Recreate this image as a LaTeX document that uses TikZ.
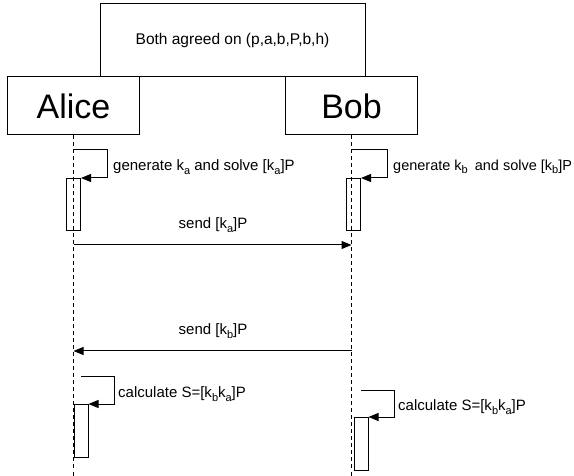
\documentclass[tikz,border=0pt]{standalone}
\usepackage{fontspec}
\setmainfont{Liberation Sans}
\usetikzlibrary{arrows.meta}
\newcommand{\sbx}[1]{\raisebox{-0.45ex}{\fontsize{11}{11}\selectfont #1}}
\begin{document}
\begin{tikzpicture}[x=1pt,y=-1pt,
  box/.style={draw, line width=1pt, inner sep=0pt, font=\fontsize{15.5}{18}\selectfont},
  actor/.style={draw, line width=1pt, inner sep=0pt, minimum width=132pt, minimum height=58pt, font=\fontsize{34}{40}\selectfont},
  life/.style={line width=1pt, dash pattern=on 4pt off 3pt},
  msg/.style={line width=1pt, -{Triangle[length=10pt,width=8pt]}},
  act/.style={draw, line width=1pt, inner sep=0pt, minimum width=14pt, minimum height=52pt},
  lbl/.style={font=\fontsize{15}{18}\selectfont, inner sep=0pt, anchor=west},
  clbl/.style={font=\fontsize{15}{18}\selectfont, inner sep=0pt}]
\useasboundingbox (0,0) rectangle (574,476);
% header boxes
\node[box, minimum width=265pt, minimum height=73pt] (top) at (232.5,40.5) {Both agreed on (p,a,b,P,b,h)};
\node[actor] (alice) at (73.5,106) {Alice};
\node[actor] (bob) at (351.5,106) {Bob};
% lifelines
\coordinate (aend) at (73.5,476);
\coordinate (bend) at (351.5,476);
\draw[life] (alice.south) -- (aend);
\draw[life] (bob.south) -- (bend);
% activations
\node[act, anchor=north] (aact1) at (73.5,178) {};
\node[act, anchor=north] (bact1) at (353.5,178) {};
\node[act, anchor=north west, minimum height=53pt] (aact2) at (73.5,404) {};
\node[act, anchor=north west, minimum height=53pt] (bact2) at (353.5,417) {};
% self loops
\coordinate (al1) at (73.5,150);
\coordinate (bl1) at (351.5,150);
\coordinate (al2) at (81,377);
\coordinate (bl2) at (361,391);
\draw[msg] (al1) -| (107,178) -- (aact1.north east);
\draw[msg] (bl1) -| (387,178) -- (bact1.north east);
\draw[msg] (al2) -| (114,404) -- (aact2.north east);
\draw[msg] (bl2) -| (394,417) -- (bact2.north east);
\node[lbl] (lg1) at (113,167) {generate k\sbx{a} and solve [k\sbx{a}]P};
\node[lbl, font=\fontsize{14.5}{18}\selectfont] (lg2) at (393,167) {generate k\sbx{b}\hspace{3pt} and solve [k\sbx{b}]P};
\node[lbl] (lc1) at (118,394) {calculate S=[k\sbx{b}k\sbx{a}]P};
\node[lbl] (lc2) at (398,407) {calculate S=[k\sbx{b}k\sbx{a}]P};
% messages
\coordinate (s1a) at (73.5,245);
\coordinate (s1b) at (351.5,245);
\coordinate (s2a) at (73.5,351);
\coordinate (s2b) at (351.5,351);
\draw[msg] (s1a) -- (s1b);
\draw[msg] (s2b) -- (s2a);
\node[clbl] (ls1) at (213,225) {send [k\sbx{a}]P};
\node[clbl] (ls2) at (213,331) {send [k\sbx{b}]P};
\end{tikzpicture}
\end{document}
